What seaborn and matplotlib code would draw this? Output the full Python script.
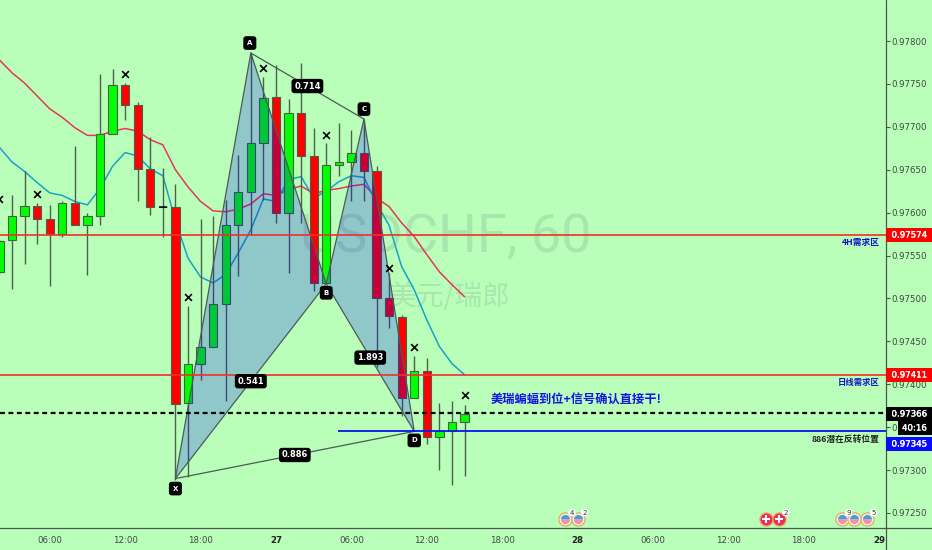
import matplotlib
matplotlib.use('Agg')
import matplotlib.pyplot as plt
import matplotlib.patheffects as pe
from matplotlib.patches import Rectangle
from matplotlib.lines import Line2D
import seaborn as sns

# velas de 1 hora, hora contada desde el dia 26 00:00
hours = list(range(2, 40))
opens = [0.97531, 0.97568, 0.97596, 0.97608, 0.97593, 0.97575, 0.97611, 0.97586, 0.97596, 0.97692,
         0.97749, 0.97726, 0.97651, 0.97606, 0.97606, 0.97378, 0.97423, 0.97443, 0.97493, 0.97585,
         0.97624, 0.97681, 0.97735, 0.97599, 0.97716, 0.97666, 0.97518, 0.97656, 0.97659, 0.97670,
         0.97649, 0.97501, 0.97478, 0.97384, 0.97415, 0.97338, 0.97345, 0.97356]
closes = [0.97567, 0.97596, 0.97608, 0.97593, 0.97575, 0.97611, 0.97586, 0.97596, 0.97692, 0.97749,
          0.97726, 0.97651, 0.97606, 0.97606, 0.97377, 0.97423, 0.97443, 0.97493, 0.97585, 0.97624,
          0.97681, 0.97734, 0.97599, 0.97716, 0.97666, 0.97518, 0.97656, 0.97659, 0.97670, 0.97649,
          0.97501, 0.97479, 0.97384, 0.97415, 0.97338, 0.97345, 0.97356, 0.97365]
highs = [0.97569, 0.97620, 0.97648, 0.97611, 0.97609, 0.97613, 0.97678, 0.97599, 0.97761, 0.97767,
         0.97751, 0.97729, 0.97688, 0.97652, 0.97633, 0.97491, 0.97593, 0.97596, 0.97615, 0.97667,
         0.97786, 0.97758, 0.97772, 0.97732, 0.97774, 0.97699, 0.97681, 0.97705, 0.97696, 0.97708,
         0.97654, 0.97530, 0.97481, 0.97433, 0.97431, 0.97378, 0.97380, 0.97376]
lows = [0.97529, 0.97511, 0.97540, 0.97563, 0.97514, 0.97571, 0.97585, 0.97527, 0.97585, 0.97692,
        0.97708, 0.97613, 0.97597, 0.97571, 0.97288, 0.97292, 0.97405, 0.97443, 0.97380, 0.97526,
        0.97574, 0.97615, 0.97588, 0.97530, 0.97588, 0.97509, 0.97518, 0.97643, 0.97614, 0.97613,
        0.97420, 0.97465, 0.97363, 0.97384, 0.97330, 0.97300, 0.97282, 0.97293]

ma_slow = [0.97778, 0.97763, 0.97751, 0.97736, 0.97721, 0.97711, 0.97699, 0.97690, 0.97690, 0.97695,
           0.97698, 0.97695, 0.97685, 0.97679, 0.97650, 0.97630, 0.97613, 0.97602, 0.97601, 0.97604,
           0.97610, 0.97622, 0.97620, 0.97627, 0.97631, 0.97622, 0.97626, 0.97628, 0.97631, 0.97633,
           0.97617, 0.97607, 0.97588, 0.97572, 0.97551, 0.97531, 0.97516, 0.97502]
ma_fast = [0.97676, 0.97659, 0.97648, 0.97635, 0.97623, 0.97620, 0.97613, 0.97609, 0.97628, 0.97654,
           0.97670, 0.97666, 0.97651, 0.97643, 0.97591, 0.97547, 0.97525, 0.97518, 0.97528, 0.97553,
           0.97580, 0.97616, 0.97613, 0.97638, 0.97642, 0.97617, 0.97625, 0.97636, 0.97643, 0.97641,
           0.97611, 0.97585, 0.97537, 0.97510, 0.97475, 0.97444, 0.97424, 0.97411]

cross_hours = [2, 5, 12, 17, 23, 28, 33, 35, 39]
cross_prices = [0.97616, 0.97622, 0.97762, 0.97502, 0.97769, 0.97691, 0.97536, 0.97443, 0.97387]

# patron XABCD
pat_names = ['X', 'A', 'B', 'C', 'D']
pat_hours = [16, 22, 28, 31, 35]
pat_prices = [0.97290, 0.97786, 0.97517, 0.97709, 0.97345]
ratio_labels = ['0.541', '0.714', '1.893', '0.886']

doji_hour = 15
level_4h = 0.97574
level_day = 0.97411
level_last = 0.97366
level_886 = 0.97345
level_886_start = 28.9

tick_hours = [6, 12, 18, 24, 30, 36, 42, 48, 54, 60, 66, 72]
tick_names = ['06:00', '12:00', '18:00', '27', '06:00', '12:00', '18:00', '28', '06:00', '12:00', '18:00', '29']
day_names = ['27', '28', '29']
price_ticks = [0.9725, 0.9730, 0.9735, 0.9740, 0.9745, 0.9750, 0.9755, 0.9760, 0.9765, 0.9770, 0.9775, 0.9780]

us_hours = [47, 48, 69, 70, 71]
us_counts = ['4', '2', '9', '', '5']
ch_hours = [63, 64]
ch_counts = ['', '2']
event_price = 0.97243

W, H = 932, 550
AX_R, AX_B = 885.5, 528
BG = '#b9ffb9'
CJK = ['Noto Sans CJK SC', 'DejaVu Sans']

sns.set_theme(style='white', rc={'axes.facecolor': BG, 'figure.facecolor': BG})
plt.rcParams['font.family'] = ['DejaVu Sans', 'Noto Sans CJK SC']

fig = plt.figure(figsize=(W / 100, H / 100), dpi=100)
ax = fig.add_axes([0, 1 - AX_B / H, AX_R / W, AX_B / H])

# marca de agua
ax.text(446 / AX_R, 1 - 237 / AX_B, 'USDCHF, 60', transform=ax.transAxes, ha='center', va='center', fontsize=39,
        family='Roboto', color='#6f8f88', alpha=0.22, zorder=0)
ax.text(450 / AX_R, 1 - 297 / AX_B, '美元/瑞郎', transform=ax.transAxes, ha='center', va='center', fontsize=20,
        family=CJK, color='#6f8f88', alpha=0.22, zorder=0)

# medias
sns.lineplot(x=hours, y=ma_slow, ax=ax, color='#e8355f', linewidth=1.1, zorder=2)
sns.lineplot(x=hours, y=ma_fast, ax=ax, color='#17a3c9', linewidth=1.1, zorder=2)

# velas
up = [c >= o for o, c in zip(opens, closes)]
colors = ['#00ff00' if u else '#ff0000' for u in up]
ax.vlines(hours, lows, highs, color='#4f5f4f', linewidth=1.0, zorder=3)
ax.bar(hours, [abs(c - o) for o, c in zip(opens, closes)], bottom=[min(o, c) for o, c in zip(opens, closes)],
       width=0.66, color=colors, edgecolor='#4a5f4a', linewidth=0.8, zorder=3)
ax.hlines(opens[doji_hour - 2], doji_hour - 0.3, doji_hour + 0.3, color='black', linewidth=1.1, zorder=3)

# triangulos del patron
ax.fill([pat_hours[i] for i in (0, 1, 2)], [pat_prices[i] for i in (0, 1, 2)], color='#0000ff', alpha=0.22,
        linewidth=0, zorder=4)
ax.fill([pat_hours[i] for i in (2, 3, 4)], [pat_prices[i] for i in (2, 3, 4)], color='#0000ff', alpha=0.22,
        linewidth=0, zorder=4)
for a, b in [(0, 1), (1, 2), (2, 3), (3, 4), (0, 2), (2, 4), (1, 3), (0, 4)]:
    ax.plot([pat_hours[a], pat_hours[b]], [pat_prices[a], pat_prices[b]], color='#4d5a55', linewidth=0.9, zorder=4.5)

# niveles
ax.axhline(level_4h, color='#f0302a', linewidth=1.2, zorder=5)
ax.axhline(level_day, color='#f0302a', linewidth=1.2, zorder=5)
ax.axhline(level_last, color='black', linewidth=1.6, linestyle=(0, (2.2, 1.6)), zorder=5)
ax.hlines(level_886, level_886_start, 80, color='#0a14f0', linewidth=1.3, zorder=5)

sns.scatterplot(x=cross_hours, y=cross_prices, ax=ax, marker='x', color='black', s=24, linewidth=1.2, zorder=6)

# etiquetas del patron
box = dict(boxstyle='round,pad=0.32,rounding_size=0.35', fc='black', ec='none')
letter_box = dict(boxstyle='round,pad=0.55,rounding_size=0.4', fc='black', ec='none')
offsets = [(0, -10), (-1, 10), (0, -9), (0, 10), (0, -9)]
for name, hx, py, off in zip(pat_names, pat_hours, pat_prices, offsets):
    ax.annotate(name, (hx, py), xytext=(off[0] * 0.72, off[1] * 0.72), textcoords='offset points', ha='center',
                va='center', fontsize=5, fontweight='bold', color='white', bbox=letter_box, zorder=7)
for (a, b), txt in zip([(0, 2), (1, 3), (2, 4), (0, 4)], ratio_labels):
    ax.annotate(txt, ((pat_hours[a] + pat_hours[b]) / 2, (pat_prices[a] + pat_prices[b]) / 2), ha='center', va='center',
                fontsize=6, fontweight='bold', color='white', bbox=box, zorder=7)

ax.text(491 / AX_R, 1 - 400 / AX_B, '美瑞蝙蝠到位+信号确认直接干!', transform=ax.transAxes, va='center', fontsize=8.8,
        fontweight='bold', color='#1414e6', family=CJK, zorder=7)
ax.text(880 / AX_R, 1 - 242 / AX_B, '4H需求区', transform=ax.transAxes, ha='right', va='center', fontsize=6.3,
        color='#1414c8', family=CJK, fontweight='bold', zorder=7)
ax.text(880 / AX_R, 1 - 382 / AX_B, '日线需求区', transform=ax.transAxes, ha='right', va='center', fontsize=6,
        color='#1414c8', family=CJK, fontweight='bold', zorder=7)
ax.text(880 / AX_R, 1 - 439 / AX_B, '886潜在反转位置', transform=ax.transAxes, ha='right', va='center', fontsize=6.3,
        color='#222222', family=CJK, fontweight='bold', zorder=7)

# eventos economicos
ax.plot(us_hours, [event_price] * 5, linestyle='none', marker='o', markersize=9.5, markerfacecolor='#e8f4ee',
        markeredgecolor='#f2a65a', markeredgewidth=0.9, zorder=6)
ax.plot(us_hours, [event_price] * 5, linestyle='none', marker='o', markersize=6.5, fillstyle='top',
        markerfacecolor='#4a9bd8', markerfacecoloralt='#f4909f', markeredgewidth=0, zorder=6)
ax.plot(ch_hours, [event_price] * 2, linestyle='none', marker='o', markersize=9.5, markerfacecolor='#e8305f',
        markeredgecolor='#f2a65a', markeredgewidth=0.9, zorder=6)
ax.plot(ch_hours, [event_price] * 2, linestyle='none', marker='P', markersize=5.5, color='white', markeredgewidth=0, zorder=6)
for hx, txt in list(zip(us_hours, us_counts)) + list(zip(ch_hours, ch_counts)):
    if txt:
        ax.annotate(txt, (hx, event_price), xytext=(5, 4.5), textcoords='offset points', ha='center', va='center',
                    fontsize=5, color='#333333', zorder=7,
                    bbox=dict(boxstyle='circle,pad=0.1', fc='white', ec='none'))

ax.set_xlim(2.046, 72.49)
ax.set_ylim(0.972324, 0.978478)
ax.yaxis.tick_right()
# el 0.97350 queda tapado por la caja del contador, solo asoma el primer digito
ax.set_yticks(price_ticks, ['0' if p == 0.9735 else f'{p:.5f}' for p in price_ticks])
ax.set_xticks(tick_hours, tick_names)
ax.tick_params(axis='both', length=3, width=0.8, color='#4a5a4a', labelcolor='#3c4a42', labelsize=6.2, pad=1.5)
ax.tick_params(axis='x', pad=3)
for lab in ax.get_xticklabels():
    if lab.get_text() in day_names:
        lab.set_fontweight('bold')
        lab.set_color('#222222')
for s in ax.spines.values():
    s.set_visible(False)
ax.set_xlabel('')
ax.set_ylabel('')

# ejes que cruzan hasta el borde de la figura
fig.add_artist(Line2D([AX_R / W] * 2, [0, 1], color='#4a5a4a', linewidth=0.9, zorder=9))
fig.add_artist(Line2D([0, 1], [1 - AX_B / H] * 2, color='#4a5a4a', linewidth=0.9, zorder=9))


def price_tag(x0, y0, y1, face, text, pad=6):
    fig.add_artist(Rectangle((x0 / W, 1 - y1 / H), (W - x0) / W, (y1 - y0) / H, transform=fig.transFigure,
                             facecolor=face, edgecolor='none', zorder=10))
    t = fig.text((x0 + pad) / W, 1 - (y0 + y1) / 2 / H, text, color='white', fontsize=6.2, va='center', zorder=11)
    t.set_path_effects([pe.withStroke(linewidth=0.25, foreground='white')])


price_tag(AX_R, 228, 242, '#ff0000', f'{level_4h:.5f}')
price_tag(AX_R, 368, 382, '#ff0000', f'{level_day:.5f}')
price_tag(AX_R, 407, 421, '#000000', f'{level_last:.5f}')
price_tag(898, 421, 435, '#000000', '40:16', pad=4)
price_tag(AX_R, 437, 451, '#0a0aff', f'{level_886:.5f}')

fig.savefig('out.png', dpi=100)
